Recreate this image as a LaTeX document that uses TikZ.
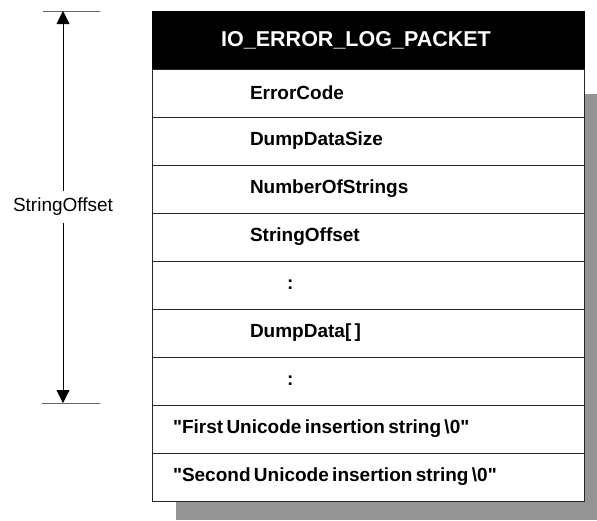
\documentclass[tikz,border=0pt]{standalone}
\usepackage{fontspec}
\setmainfont{Liberation Sans}
\usetikzlibrary{arrows.meta}
\newcommand{\ioLogText}[1]{\fontsize{19}{22}\selectfont\bfseries #1}
\newcommand{\ioLogDots}{\hspace*{37pt}:}
\newcommand{\ioLogQuote}[1]{\textquotedbl #1\textquotedbl}
\tikzset{
  ioLogShadow/.style={fill=black!42},
  ioLogHead/.style={fill=black, draw=black, text=white, minimum width=432pt, minimum height=58pt, inner sep=0pt, font=\fontsize{21.5}{25}\selectfont\bfseries},
  ioLogField/.style={draw=black!85, fill=white, line width=0.8pt, minimum height=48pt, inner ysep=0pt, inner xsep=98pt, text width=236pt, align=left},
  ioLogString/.style={ioLogField, inner xsep=21pt, text width=390pt},
  ioLogTick/.style={draw=black!60, line width=0.6pt},
  ioLogSpan/.style={draw=black, line width=0.8pt, {Triangle[length=13pt,width=13pt]}-{Triangle[length=13pt,width=13pt]}}
}
\begin{document}
\begin{tikzpicture}[x=1pt,y=-1pt]
\useasboundingbox (0,0) rectangle (597,520);
\fill[ioLogShadow] (176,94) rectangle (597,520);
\node[ioLogHead] (head) at (368,40) {\hspace*{-24pt}IO\_ERROR\_LOG\_PACKET};
\node[ioLogField] (errorCode) at (368,93) {\ioLogText{ErrorCode}};
\node[ioLogField] (dumpSize) at (368,141) {\ioLogText{DumpDataSize}};
\node[ioLogField] (numStrings) at (368,189) {\ioLogText{NumberOfStrings}};
\node[ioLogField] (strOffset) at (368,237) {\ioLogText{StringOffset}};
\node[ioLogField] (gapOne) at (368,285) {\ioLogText{\ioLogDots}};
\node[ioLogField] (dumpData) at (368,333) {\ioLogText{DumpData[ ]}};
\node[ioLogField] (gapTwo) at (368,381) {\ioLogText{\ioLogDots}};
\node[ioLogString] (firstStr) at (368,429) {\ioLogText{\ioLogQuote{First Unicode insertion string \textbackslash 0}}};
\node[ioLogString] (secondStr) at (368,477) {\ioLogText{\ioLogQuote{Second Unicode insertion string \textbackslash 0}}};
\coordinate (tickTopL) at (43,11);
\coordinate (tickTopR) at (100,11);
\coordinate (tickBotL) at (42,403);
\coordinate (tickBotR) at (100,403);
\coordinate (spanTop) at (63,11);
\coordinate (spanBot) at (63,403);
\draw[ioLogTick] (tickTopL) -- (tickTopR);
\draw[ioLogTick] (tickBotL) -- (tickBotR);
\draw[ioLogSpan] (spanTop) -- node[fill=white, inner xsep=1pt, inner ysep=7pt, font=\fontsize{19}{22}\selectfont] (spanLabel) {StringOffset} (spanBot);
\end{tikzpicture}
\end{document}
